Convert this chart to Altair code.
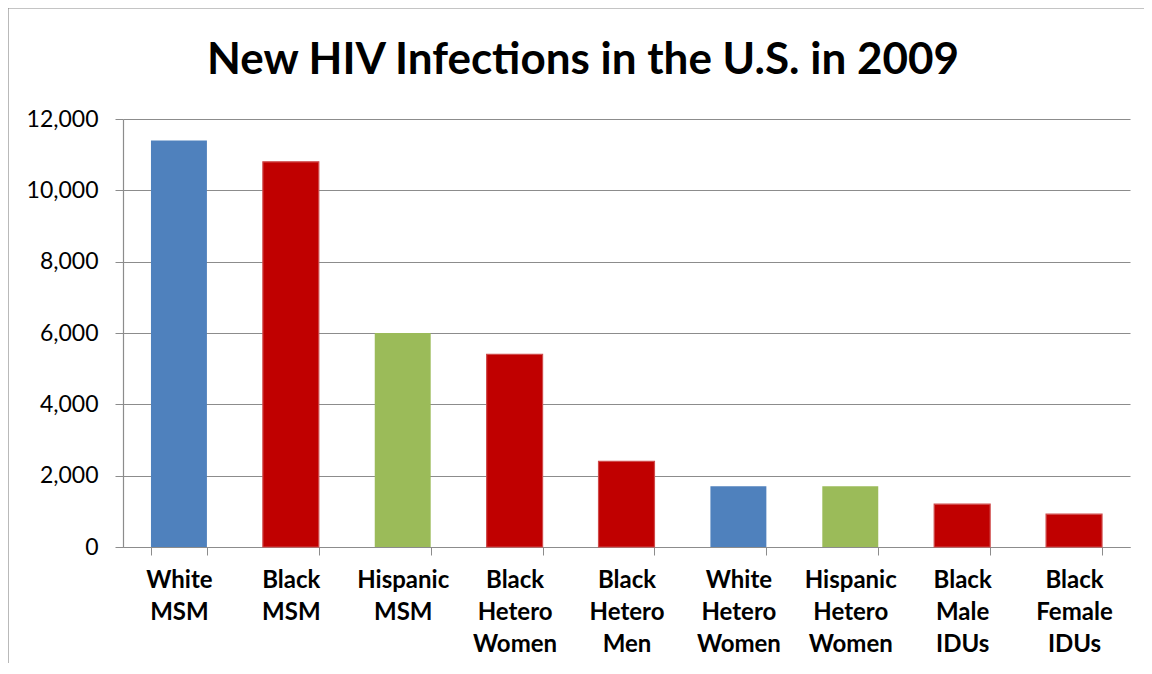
import altair as alt
import pandas as pd

categories = ["White MSM", "Black MSM", "Hispanic MSM", "Black Hetero Women",
              "Black Hetero Men", "White Hetero Women", "Hispanic Hetero Women",
              "Black Male IDUs", "Black Female IDUs"]
values = [11400, 10800, 6000, 5400, 2400, 1700, 1700, 1200, 920]
groups = ["White", "Black", "Hispanic", "Black", "Black", "White", "Hispanic", "Black", "Black"]
y_ticks = [0, 2000, 4000, 6000, 8000, 10000, 12000]
title_text = ["New HIV Infections in the U.S. in 2009"]

group_domain = ["White", "Black", "Hispanic"]
group_colors = ["#4F81BD", "#C00000", "#9BBB59"]

df = pd.DataFrame({"category": categories, "value": values, "group": groups})

W, H = 1007, 428
FONT = "Lato"
GRID = "#8c8c8c"

frame = alt.Chart(pd.DataFrame({"a": [0]})).mark_rect(
    fillOpacity=0, stroke="#8a8a8a", strokeWidth=1.2
).encode(
    x=alt.value(-115), x2=alt.value(W + 60),
    y=alt.value(-111), y2=alt.value(H + 200)
)

title = alt.Chart(pd.DataFrame({"t": title_text})).mark_text(
    font=FONT, fontSize=44, fontWeight="bold", color="black",
    align="center", baseline="alphabetic"
).encode(text="t:N", x=alt.value(460), y=alt.value(-45))

bars = alt.Chart(df).mark_bar(strokeWidth=1.2).encode(
    x=alt.X("category:N", sort=categories,
            scale=alt.Scale(paddingInner=0.5, paddingOuter=0.25),
            axis=alt.Axis(title=None, labelAngle=0,
                          labelExpr="split(datum.label, ' ')",
                          labelFont=FONT, labelFontSize=24, labelFontWeight="bold",
                          labelColor="black", labelLineHeight=32, labelPadding=13,
                          tickBand="extent", tickSize=8, tickColor=GRID,
                          domainColor=GRID, domainWidth=1.2, grid=False)),
    y=alt.Y("value:Q", scale=alt.Scale(domain=[0, 12000], nice=False),
            axis=alt.Axis(title=None, values=y_ticks, format=",d",
                          labelFont=FONT, labelFontSize=23, labelColor="black",
                          labelPadding=17, tickSize=8, tickColor=GRID,
                          domainColor=GRID, domainWidth=1.2,
                          grid=True, gridColor=GRID, gridWidth=1.2)),
    color=alt.Color("group:N", scale=alt.Scale(domain=group_domain, range=group_colors),
                    legend=None),
    stroke=alt.condition(alt.datum.group == "Black", alt.value("#cf4a4a"), alt.value("transparent")),
)

chart = alt.layer(frame, title, bars).properties(
    width=W, height=H,
    autosize=alt.AutoSizeParams(type="none"),
    padding={"left": 115, "top": 111, "right": 14, "bottom": 116},
).configure_view(stroke=None)

chart.save("out.html", embed_options={"renderer": "svg", "actions": False})
